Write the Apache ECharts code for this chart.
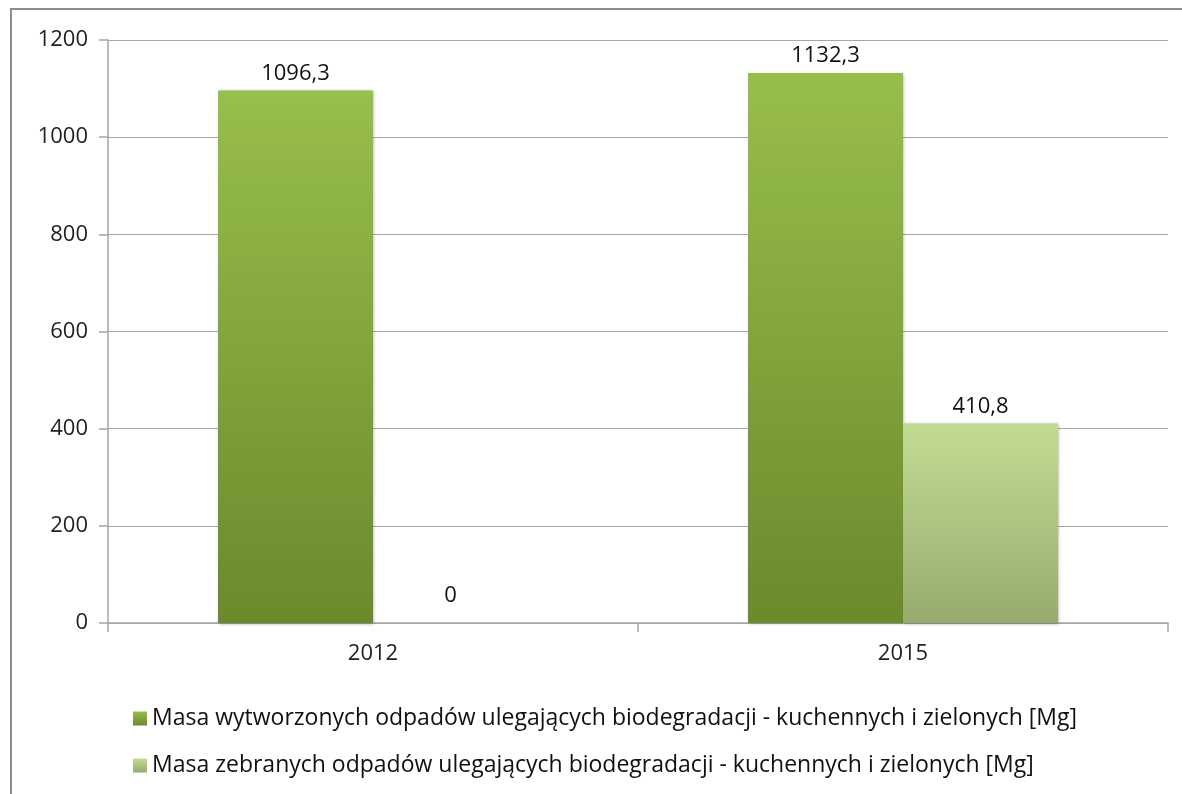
<!DOCTYPE html>
<html>
<head>
<meta charset="utf-8">
<script src="https://cdn.jsdelivr.net/npm/echarts@6/dist/echarts.min.js"></script>
<style>
  html, body { margin: 0; padding: 0; background: #fff; }
  #chart { width: 1182px; height: 794px; }
</style>
</head>
<body>
<div id="chart"></div>
<script>
// dane
const lata = ['2012', '2015'];
const wytworzone = [1096.3, 1132.3];
const zebrane = [0, 410.8];
const nazwaWytworzone = 'Masa wytworzonych odpadów ulegających biodegradacji - kuchennych i zielonych [Mg]';
const nazwaZebrane = 'Masa zebranych odpadów ulegających biodegradacji - kuchennych i zielonych [Mg]';
const osY = { min: 0, max: 1200, interval: 200 };

const font = '"Open Sans", Lato, sans-serif';

// przecinek zamiast kropki
function fmt(v) {
  return String(v).replace('.', ',');
}

function gradient(top, bottom) {
  return new echarts.graphic.LinearGradient(0, 0, 0, 1, [
    { offset: 0, color: top },
    { offset: 1, color: bottom }
  ]);
}

// etykieta "0" stoi wyżej nad osią
function daneZEtykieta(arr) {
  return arr.map(v => v === 0 ? { value: v, label: { distance: 16 } } : v);
}

const chart = echarts.init(document.getElementById('chart'));
chart.setOption({
  animation: false,
  backgroundColor: '#fff',
  textStyle: { fontFamily: font },
  graphic: [{
    type: 'rect',
    shape: { x: 11, y: 9, width: 1300, height: 900 },
    style: { fill: 'none', stroke: '#8c8c8c', lineWidth: 2 },
    z: -1
  }],
  grid: { left: 108, right: 14, top: 40, bottom: 171 },
  legend: {
    orient: 'vertical',
    left: 128,
    top: 702,
    itemGap: 24,
    itemWidth: 14,
    itemHeight: 14,
    icon: 'rect',
    textStyle: { fontFamily: font, fontSize: 23, color: '#111' },
    data: [nazwaWytworzone, nazwaZebrane]
  },
  xAxis: {
    type: 'category',
    data: lata,
    axisLine: { lineStyle: { color: '#a6a6a6', width: 1.5 } },
    axisTick: { show: true, length: 9, lineStyle: { color: '#a6a6a6', width: 1.5 } },
    axisLabel: { fontSize: 22, color: '#222', margin: 20 }
  },
  yAxis: {
    type: 'value',
    min: osY.min,
    max: osY.max,
    interval: osY.interval,
    axisLine: { show: true, lineStyle: { color: '#a6a6a6', width: 1.5 } },
    axisTick: { show: true, length: 9, lineStyle: { color: '#a6a6a6', width: 1.5 } },
    axisLabel: { fontSize: 22, color: '#222', margin: 20, formatter: v => String(v) },
    splitLine: { lineStyle: { color: '#a6a6a6', width: 1 } }
  },
  series: [
    {
      name: nazwaWytworzone,
      type: 'bar',
      data: daneZEtykieta(wytworzone),
      barGap: '0%',
      barCategoryGap: '41.5%',
      itemStyle: {
        color: gradient('#98be4c', '#6a8a2c'),
        shadowColor: 'rgba(0,0,0,0.3)',
        shadowBlur: 3,
        shadowOffsetX: 1,
        shadowOffsetY: 1
      },
      label: {
        show: true,
        position: 'top',
        distance: 6,
        fontSize: 22,
        color: '#111',
        formatter: p => fmt(p.value)
      }
    },
    {
      name: nazwaZebrane,
      type: 'bar',
      data: daneZEtykieta(zebrane),
      itemStyle: {
        color: gradient('#c2dc94', '#97ab70'),
        shadowColor: 'rgba(0,0,0,0.3)',
        shadowBlur: 3,
        shadowOffsetX: 1,
        shadowOffsetY: 1
      },
      label: {
        show: true,
        position: 'top',
        distance: 6,
        fontSize: 22,
        color: '#111',
        formatter: p => fmt(p.value)
      }
    }
  ]
});
</script>
</body>
</html>
